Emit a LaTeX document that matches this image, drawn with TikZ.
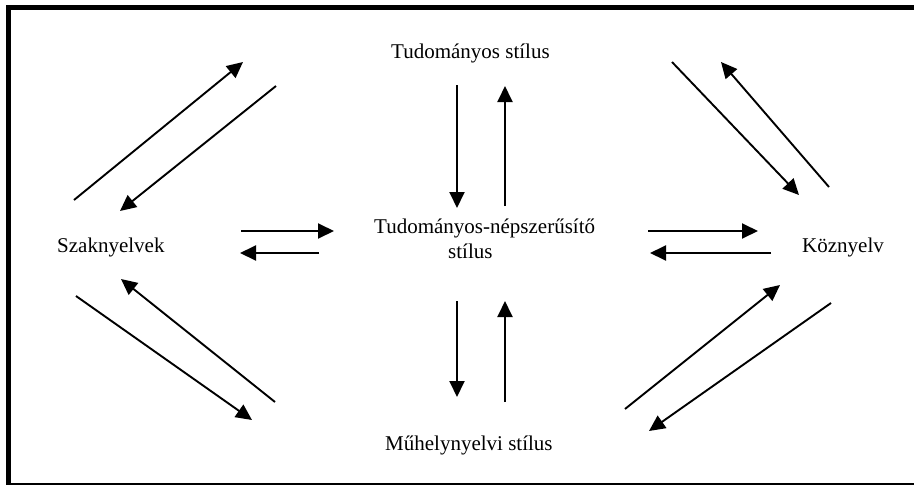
\documentclass[tikz,border=0pt]{standalone}
\usepackage{fontspec}
\setmainfont{Liberation Serif}
\usetikzlibrary{arrows.meta}
\begin{document}
\begin{tikzpicture}[x=1pt,y=-1pt,
  lbl/.style={anchor=base west,inner sep=0pt,font=\fontsize{21}{25}\selectfont},
  flow/.style={line width=1.9pt,-{Triangle[length=16pt,width=15pt]}}]
\useasboundingbox (0,0) rectangle (914,485);

% frame: heavy top and left edges, thin bottom edge
\fill (6,5) rectangle (914,10);
\fill (6,5) rectangle (11,485);
\fill (6,483.4) rectangle (914,485);

% labels
\node[lbl] (tud) at (391,58) {Tudományos stílus};
\node[lbl] (szak) at (57,252) {Szaknyelvek};
\node[lbl] (koz) at (802,252) {Köznyelv};
\node[lbl,align=left] (nep) at (374,258) {Tudományos-népszerűsítő\\\hspace*{74pt}stílus};
\node[lbl] (muh) at (385,450.5) {Műhelynyelvi stílus};

% arrow end points
\coordinate (tlAs) at (74,200);  \coordinate (tlAe) at (243,62);
\coordinate (tlBs) at (276,86);  \coordinate (tlBe) at (120,211);
\coordinate (trAs) at (672,62);  \coordinate (trAe) at (799,195);
\coordinate (trBs) at (829,187); \coordinate (trBe) at (721,62);
\coordinate (blAs) at (275,402); \coordinate (blAe) at (121,279);
\coordinate (blBs) at (76,296);  \coordinate (blBe) at (252,420);
\coordinate (brAs) at (625,409); \coordinate (brAe) at (780,285);
\coordinate (brBs) at (831,303); \coordinate (brBe) at (649,431);
\coordinate (hlAs) at (241,231); \coordinate (hlAe) at (334,231);
\coordinate (hlBs) at (319,253); \coordinate (hlBe) at (240,253);
\coordinate (hrAs) at (648,231); \coordinate (hrAe) at (758,231);
\coordinate (hrBs) at (771,253); \coordinate (hrBe) at (650,253);
\coordinate (vtAs) at (457,85);  \coordinate (vtAe) at (457,208);
\coordinate (vtBs) at (505,206); \coordinate (vtBe) at (505,86);
\coordinate (vbAs) at (457,301); \coordinate (vbAe) at (457,397);
\coordinate (vbBs) at (505,402); \coordinate (vbBe) at (505,301);

% arrows
\foreach \a in {tlA,tlB,trA,trB,blA,blB,brA,brB,hlA,hlB,hrA,hrB,vtA,vtB,vbA,vbB}
  \draw[flow] (\a s) -- (\a e);
\end{tikzpicture}
\end{document}
